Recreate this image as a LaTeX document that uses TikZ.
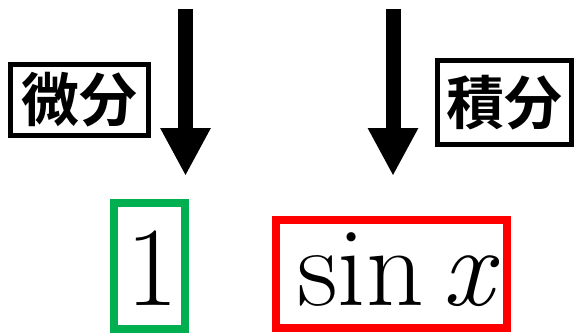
\documentclass[tikz,border=0pt]{standalone}
\usepackage{fontspec}
\usetikzlibrary{arrows.meta}
\newfontfamily\jpfont{Noto Sans CJK JP}[BoldFont={* Bold}]
\definecolor{boxgreen}{HTML}{00B050}
\definecolor{boxred}{HTML}{FF0000}
\tikzset{
  labelbox/.style={draw=black, line width=5pt, inner sep=0pt, font=\jpfont\bfseries\fontsize{58}{60}\selectfont},
  exprbox/.style={line width=8pt, inner sep=0pt},
  exprtext/.style={inner sep=0pt, font=\fontsize{113}{120}\selectfont},
  bigarrow/.style={line width=15pt, -{Triangle[width=47pt,length=48pt]}}
}
\begin{document}
\begin{tikzpicture}[x=1pt,y=-1pt]
\useasboundingbox (0,0) rectangle (577,334);
\node[labelbox, minimum width=138pt, minimum height=71pt] (bibun) at (79.5,100) {微分};
\node[labelbox, minimum width=134pt, minimum height=84pt] (sekibun) at (504.5,102.5) {積分};
\node[exprbox, draw=boxgreen, minimum width=71pt, minimum height=126pt] (gbox) at (149.5,266) {};
\node[exprbox, draw=boxred, minimum width=231pt, minimum height=108pt] (rbox) at (391.5,274) {};
\node[exprtext, anchor=base] (one) at (152.5,305) {1};
\node[exprtext, anchor=base] (sinx) at (398.5,305) {sin\,\textit{x}};
\coordinate (a1s) at (185.5,9);
\coordinate (a1e) at (185.5,176);
\coordinate (a2s) at (393,9);
\coordinate (a2e) at (393,176);
\draw[bigarrow] (a1s) -- (a1e);
\draw[bigarrow] (a2s) -- (a2e);
\end{tikzpicture}
\end{document}
